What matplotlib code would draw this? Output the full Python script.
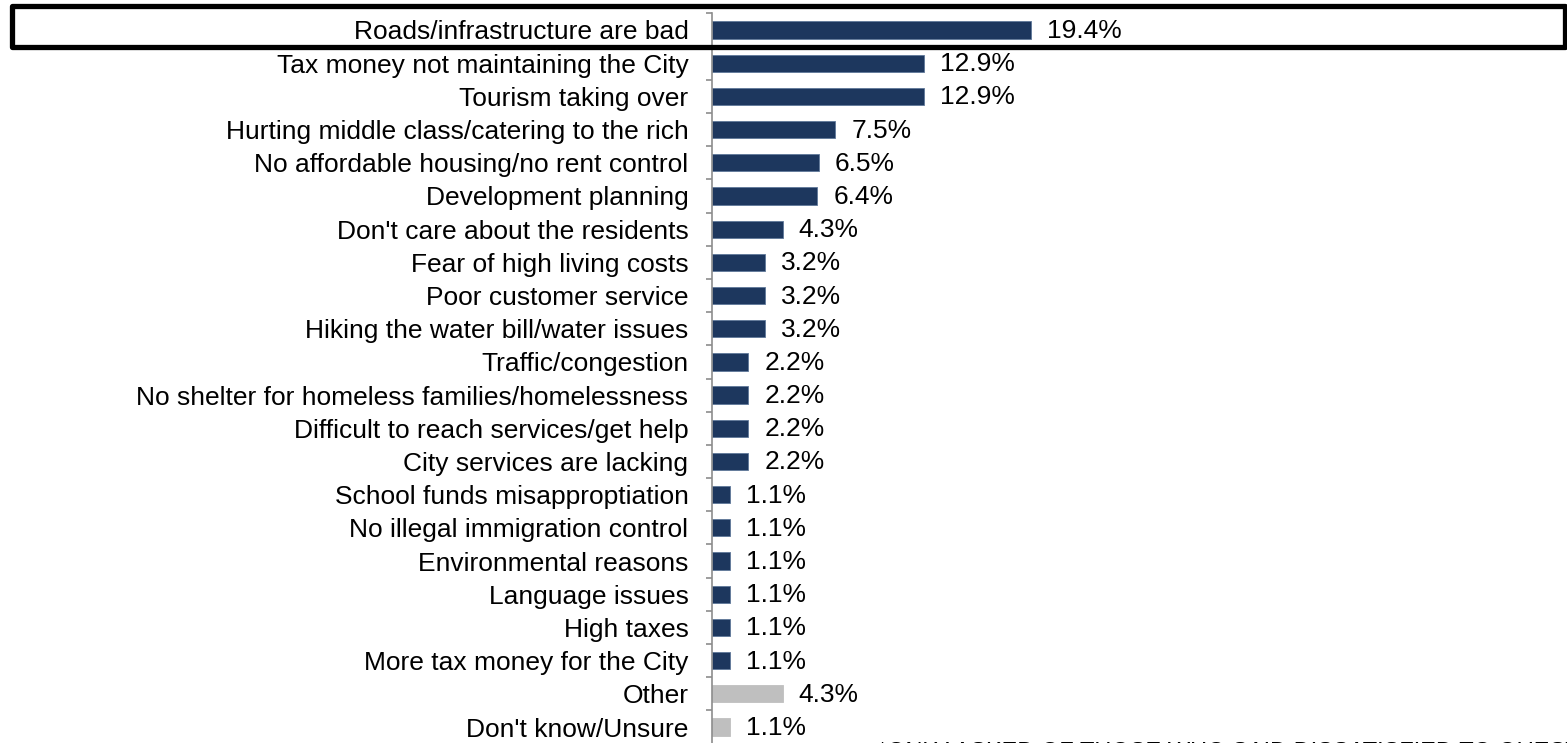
import matplotlib
matplotlib.use("Agg")
import matplotlib.pyplot as plt
import numpy as np
from matplotlib.patches import Rectangle

categories = [
    "Roads/infrastructure are bad",
    "Tax money not maintaining the City",
    "Tourism taking over",
    "Hurting middle class/catering to the rich",
    "No affordable housing/no rent control",
    "Development planning",
    "Don't care about the residents",
    "Fear of high living costs",
    "Poor customer service",
    "Hiking the water bill/water issues",
    "Traffic/congestion",
    "No shelter for homeless families/homelessness",
    "Difficult to reach services/get help",
    "City services are lacking",
    "School funds misapproptiation",
    "No illegal immigration control",
    "Environmental reasons",
    "Language issues",
    "High taxes",
    "More tax money for the City",
    "Other",
    "Don't know/Unsure",
]
values = [19.4, 12.9, 12.9, 7.5, 6.5, 6.4, 4.3, 3.2, 3.2, 3.2, 2.2, 2.2, 2.2, 2.2,
          1.1, 1.1, 1.1, 1.1, 1.1, 1.1, 4.3, 1.1]
value_labels = ["19.4%", "12.9%", "12.9%", "7.5%", "6.5%", "6.4%", "4.3%", "3.2%", "3.2%",
                "3.2%", "2.2%", "2.2%", "2.2%", "2.2%", "1.1%", "1.1%", "1.1%", "1.1%",
                "1.1%", "1.1%", "4.3%", "1.1%"]
groups = ["main"] * 20 + ["other", "other"]
footnote = "*ONLY ASKED OF THOSE WHO SAID DISSATISFIED TO QUESTION"

plt.rcParams['font.family'] = ['Liberation Sans', 'DejaVu Sans']

W, H = 1567, 743
fig = plt.figure(figsize=(W / 100, H / 100), dpi=100)
ax_left = 712 / W
ax_top = (H - 13.4) / H
ax_bot = (H - 743.6) / H
ax = fig.add_axes([ax_left, ax_bot, 1 - ax_left, ax_top - ax_bot])

colors = {"main": "#1D375E", "other": "#BFBFBF"}
edges = {"main": "#5F7899", "other": "#BFBFBF"}
n = len(categories)
y = np.arange(n)
bar_colors = [colors[g] for g in groups]
edge_colors = [edges[g] for g in groups]
ax.barh(y, values, height=0.52, color=bar_colors, edgecolor=edge_colors, linewidth=0.6)

ax.set_xlim(0, (W - 712) / 16.44)
ax.set_ylim(n - 0.5, -0.5)

for yi, v, lab in zip(y, values, value_labels):
    ax.annotate(lab, xy=(v, yi), xytext=(16, -1), textcoords="offset pixels",
                ha="left", va="center", fontsize=19, color="black")

ax.set_yticks(y)
ax.set_yticklabels(categories, fontsize=19)
ax.set_yticks(np.arange(n + 1) - 0.5, minor=True)
ax.tick_params(axis="y", which="major", length=0, pad=17)
ax.tick_params(axis="y", which="minor", length=4.5, width=1.2, color="#8C8C8C", direction="out")
ax.set_xticks([])
for s in ["top", "right", "bottom"]:
    ax.spines[s].set_visible(False)
ax.spines["left"].set_color("#8C8C8C")
ax.spines["left"].set_linewidth(1.2)

# highlight box around first row
fig.add_artist(Rectangle((12 / W, (H - 47) / H), (1565 - 12) / W, 41 / H,
                         transform=fig.transFigure, fill=False, edgecolor="black",
                         linewidth=3.8, joinstyle="round"))

fig.text(878 / W, (H - 742) / H, footnote, ha="left", va="top", fontsize=17, color="black")

fig.savefig("out.png", dpi=100)
